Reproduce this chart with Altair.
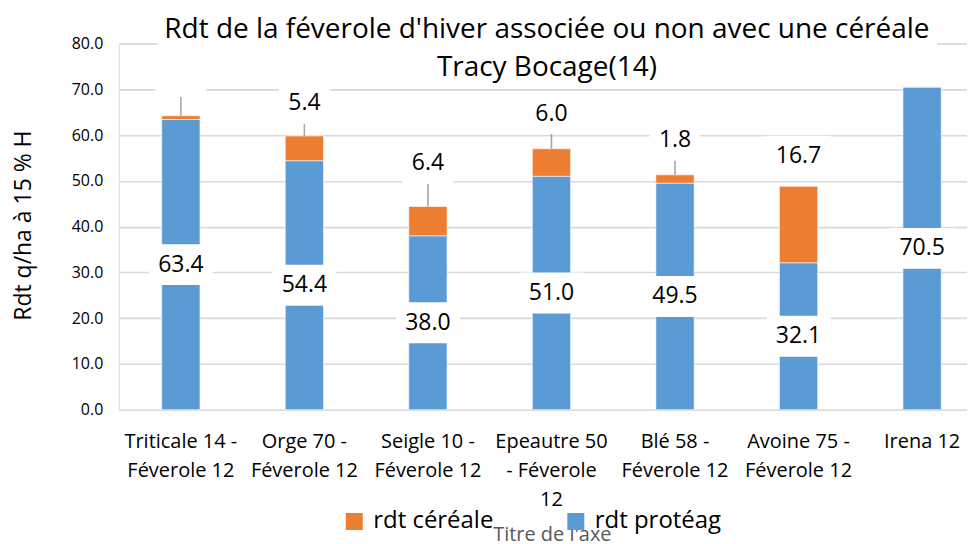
import altair as alt
import pandas as pd

# ---- data ----
categories = [
    "Triticale 14 -\nFéverole 12",
    "Orge 70 -\nFéverole 12",
    "Seigle 10 -\nFéverole 12",
    "Epeautre 50\n- Féverole\n12",
    "Blé 58 -\nFéverole 12",
    "Avoine 75 -\nFéverole 12",
    "Irena 12",
]
rdt_proteag = [63.4, 54.4, 38.0, 51.0, 49.5, 32.1, 70.5]
rdt_cereale = [0.8, 5.4, 6.4, 6.0, 1.8, 16.7, 0.0]
# where the (manually moved) cereal labels sit, in q/ha
cereale_label_at = [72.8, 66.9, 53.8, 64.7, 58.9, 55.4, 0.0]

series_names = ["rdt céréale", "rdt protéag"]
series_colors = ["#ED7D31", "#5B9BD5"]

title_lines = ["Rdt de la féverole d'hiver associée ou non avec une céréale",
               "Tracy Bocage(14)"]
y_title = "Rdt q/ha à 15 % H"
x_title = "Titre de l'axe"
y_ticks = [0, 10, 20, 30, 40, 50, 60, 70, 80]

FONT = "Open Sans"

# ---- tables ----
rows = []
for c, p, k in zip(categories, rdt_proteag, rdt_cereale):
    rows.append({"cat": c, "serie": "rdt protéag", "y0": 0.0, "y1": p})
    rows.append({"cat": c, "serie": "rdt céréale", "y0": p, "y1": p + k})
bars_df = pd.DataFrame(rows)

lab_rows = []
for c, p, k, at in zip(categories, rdt_proteag, rdt_cereale, cereale_label_at):
    lab_rows.append({"cat": c, "kind": "p", "v": p, "at": p / 2, "top": p})
    if k > 0:
        lab_rows.append({"cat": c, "kind": "c", "v": k, "at": at, "top": p + k})
labels_df = pd.DataFrame(lab_rows)

x_enc = alt.X(
    "cat:N",
    sort=categories,
    scale=alt.Scale(paddingInner=0.69, paddingOuter=0.278, align=0.625),
    axis=alt.Axis(
        labelExpr="split(datum.label, '\\n')",
        labelAngle=0,
        labelFont=FONT,
        labelFontSize=20,
        labelLineHeight=29,
        labelColor="#000000",
        labelPadding=22,
        labelLimit=0,
        domain=False,
        ticks=False,
        grid=False,
        title=x_title,
        titleFont=FONT,
        titleFontSize=20,
        titleFontWeight="normal",
        titleColor="#595959",
        titleX=434,
        titleY=115,
        titleBaseline="top",
    ),
)

y_scale = alt.Scale(domain=[0, 80], nice=False, zero=True)

base_bars = alt.Chart(bars_df).mark_bar(stroke="white", strokeWidth=0.6).encode(
    x=x_enc,
    y=alt.Y(
        "y0:Q",
        scale=y_scale,
        axis=alt.Axis(
            values=y_ticks,
            format=".1f",
            labelFont=FONT,
            labelFontSize=16,
            labelColor="#000000",
            labelPadding=16,
            domain=False,
            ticks=False,
            gridColor="#d9d9d9",
            gridWidth=1.6,
            title=y_title,
            titleFont=FONT,
            titleFontSize=23,
            titleFontWeight="normal",
            titleColor="#000000",
            titleAngle=-90,
            titleX=-95,
            titleY=182,
            titleAlign="center",
            titleBaseline="middle",
        ),
    ),
    y2="y1:Q",
    color=alt.Color(
        "serie:N",
        scale=alt.Scale(domain=series_names, range=series_colors),
        legend=alt.Legend(
            title=None,
            orient="none",
            legendX=224,
            legendY=467,
            direction="horizontal",
            symbolType="square",
            symbolSize=289,
            symbolStrokeWidth=0,
            symbolOpacity=1,
            labelFont=FONT,
            labelFontSize=24,
            labelColor="#000000",
            labelOffset=7,
            columnPadding=70,
            padding=0,
        ),
    ),
)

title_back = alt.Chart(pd.DataFrame({"a": [0]})).mark_rect(color="white").encode(
    x=alt.value(39), x2=alt.value(820), y=alt.value(-40), y2=alt.value(38)
)

leaders = alt.Chart(labels_df).transform_filter(
    "datum.kind == 'c' && (datum.at - 4.47 - datum.top) > 2.5"
).transform_calculate(
    ly="datum.at - 4.47"
).mark_rule(color="#a6a6a6", strokeWidth=1.6).encode(
    x=alt.X("cat:N", sort=categories),
    y=alt.Y("ly:Q", scale=y_scale),
    y2="top:Q",
)

boxes = alt.Chart(labels_df).transform_calculate(
    b0="datum.at - 4.47",
    b1="datum.at + 4.47",
    w="length(format(datum.v, '.1f')) * 13 + 12",
).mark_bar(color="white").encode(
    x=alt.X("cat:N", sort=categories),
    y=alt.Y("b0:Q", scale=y_scale),
    y2="b1:Q",
    size=alt.Size("w:Q", scale=None, legend=None),
)

texts = alt.Chart(labels_df).transform_filter("datum.v >= 1").mark_text(
    font=FONT, fontSize=23, color="#000000", baseline="middle", align="center"
).encode(
    x=alt.X("cat:N", sort=categories),
    y=alt.Y("at:Q", scale=y_scale),
    text=alt.Text("v:Q", format=".1f"),
)

chart = alt.layer(title_back, base_bars, leaders, boxes, texts).properties(
    width=850,
    height=367,
    padding={"left": 111, "top": 35, "right": 0, "bottom": 132},
    autosize=alt.AutoSizeParams(type="none"),
    title=alt.TitleParams(
        text=title_lines,
        font=FONT,
        fontSize=28,
        fontWeight="normal",
        color="#000000",
        lineHeight=38,
        anchor="middle",
        baseline="top",
        offset=-79,
        dx=4,
    ),
).configure_view(stroke=None).configure(background="white")

chart.save("out.html", embed_options={"renderer": "svg", "actions": False})
